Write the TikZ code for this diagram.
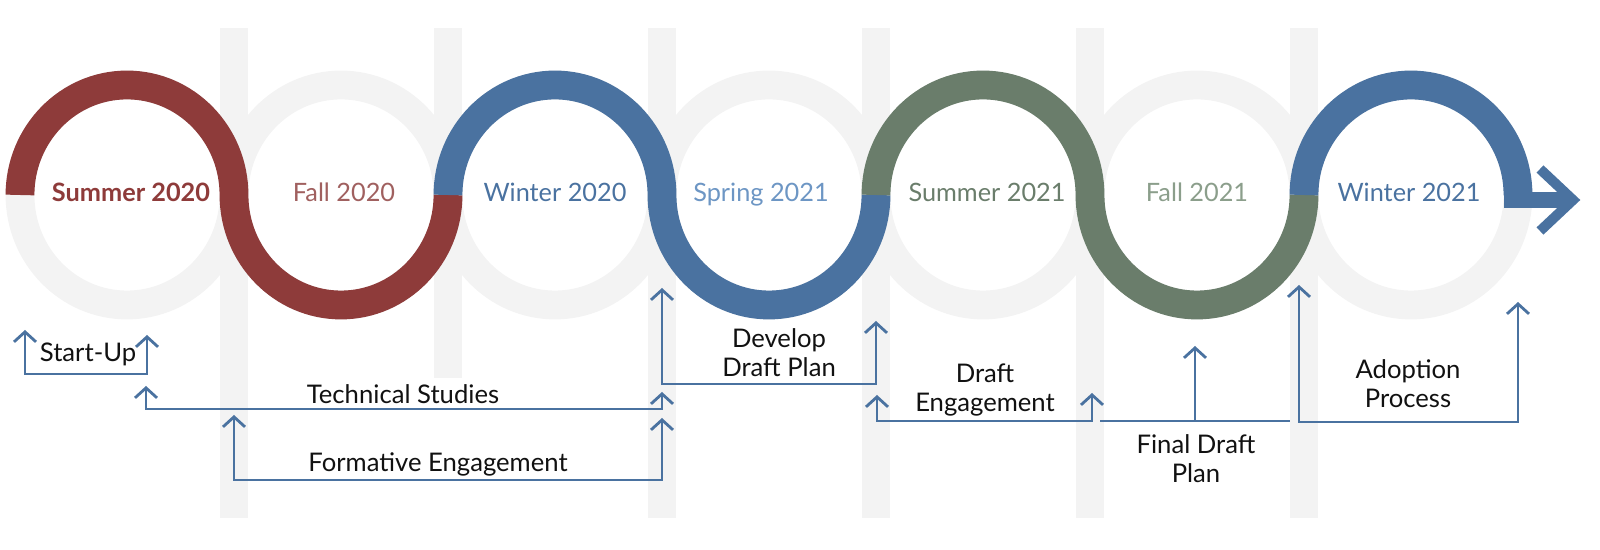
\documentclass[tikz,border=0pt]{standalone}
\usepackage{fontspec}
\setsansfont{Lato}
\usetikzlibrary{arrows.meta}
\definecolor{cred}{HTML}{8E3B3A}
\definecolor{credl}{HTML}{A0605F}
\definecolor{cblue}{HTML}{4A72A0}
\definecolor{cbluel}{HTML}{6D96C4}
\definecolor{cgreen}{HTML}{6A7D6B}
\definecolor{cgreenl}{HTML}{8B9E8B}
\definecolor{cgrey}{HTML}{F3F3F3}
\definecolor{cink}{HTML}{111111}
\tikzset{
  every picture/.style={font=\sffamily},
  ring/.style={draw=cgrey, line width=16.4pt},
  half/.style={draw=#1, line width=16.4pt, x radius=107, y radius=110},
  bar/.style={fill=cgrey},
  season/.style={font=\sffamily\fontsize{14.4}{17}\selectfont, anchor=base, inner sep=0pt, text=#1},
  lbl/.style={font=\sffamily\fontsize{14.6}{17}\selectfont, anchor=base, align=center, inner sep=0pt, text=cink},
  brk/.style={draw=cblue, line width=1.6pt, >={Straight Barb[length=2mm, width=4.4mm]}, <->},
}

\begin{document}
\begin{tikzpicture}[x=0.02cm, y=0.02cm]
  \useasboundingbox (0,0) rectangle (1600,550);

  % grey backdrop
  \foreach \x in {234,662,876,1090,1304} \fill[bar] (\x-14,32) rectangle (\x+14,522);
  \fill[bar] (434,172) rectangle (462,522);
  \foreach \i in {0,...,6} \draw[ring] (127+214*\i,355) ellipse [x radius=107, y radius=110];

  % timeline
  \draw[half=cred]   (20,355)  arc[start angle=180, end angle=0] arc[start angle=180, end angle=360];
  \draw[half=cblue]  (448,355) arc[start angle=180, end angle=0] arc[start angle=180, end angle=360];
  \draw[half=cgreen] (876,355) arc[start angle=180, end angle=0] arc[start angle=180, end angle=360];
  \draw[half=cblue]  (1304,355) arc[start angle=180, end angle=0];
  \draw[cblue, line width=9.1pt] (1504,350) -- (1568,350);
  \draw[cblue, line width=5.7pt, miter limit=10] (1540,381) -- (1573,350) -- (1540,319);

  % seasons
  \node[season=cred, font=\sffamily\bfseries\fontsize{14.4}{17}\selectfont] (su20) at (131,348) {Summer 2020};
  \node[season=credl]   (fa20) at (344,348)  {Fall 2020};
  \node[season=cblue]   (wi20) at (555,348)  {Winter 2020};
  \node[season=cbluel]  (sp21) at (761,348)  {Spring 2021};
  \node[season=cgreen]  (su21) at (987,348)  {Summer 2021};
  \node[season=cgreenl] (fa21) at (1197,348) {Fall 2021};
  \node[season=cblue]   (wi21) at (1409,348) {Winter 2021};

  % phases (base = last line)
  \node[lbl] (start) at (88,188)   {Start-Up};
  \node[lbl] (tech)  at (403,146)  {Technical Studies};
  \node[lbl] (form)  at (438,78)   {Formative Engagement};
  \node[lbl] (dev)   at (779,173)  {Develop\\Draft Plan};
  \node[lbl] (deng)  at (985,138)  {Draft\\Engagement};
  \node[lbl] (final) at (1196,67)  {Final Draft\\Plan};
  \node[lbl] (adopt) at (1408,142) {Adoption\\Process};

  \coordinate (su-a) at (25,220);   \coordinate (su-c) at (25,176);   \coordinate (su-b) at (147,215);
  \coordinate (ts-a) at (146,164);  \coordinate (ts-c) at (146,141);  \coordinate (ts-b) at (662,158);
  \coordinate (fe-a) at (234,135);  \coordinate (fe-c) at (234,70);   \coordinate (fe-b) at (662,132);
  \coordinate (dd-a) at (662,262);  \coordinate (dd-c) at (662,166);  \coordinate (dd-b) at (876,229);
  \coordinate (de-a) at (877,155);  \coordinate (de-c) at (877,129);  \coordinate (de-b) at (1092,157);
  \coordinate (fd-a) at (1100,129); \coordinate (fd-c) at (1195,129); \coordinate (fd-b) at (1290,129);
  \coordinate (fd-t) at (1195,204);
  \coordinate (ap-a) at (1299,265); \coordinate (ap-c) at (1299,128); \coordinate (ap-b) at (1518,248);

  \draw[brk] (su-a) -- (su-c) -| (su-b);
  \draw[brk] (ts-a) -- (ts-c) -| (ts-b);
  \draw[brk] (fe-a) -- (fe-c) -| (fe-b);
  \draw[brk] (dd-a) -- (dd-c) -| (dd-b);
  \draw[brk] (de-a) -- (de-c) -| (de-b);
  \draw[brk, -] (fd-a) -- (fd-b);
  \draw[brk, ->] (fd-c) -- (fd-t);
  \draw[brk] (ap-a) -- (ap-c) -| (ap-b);
\end{tikzpicture}
\end{document}
